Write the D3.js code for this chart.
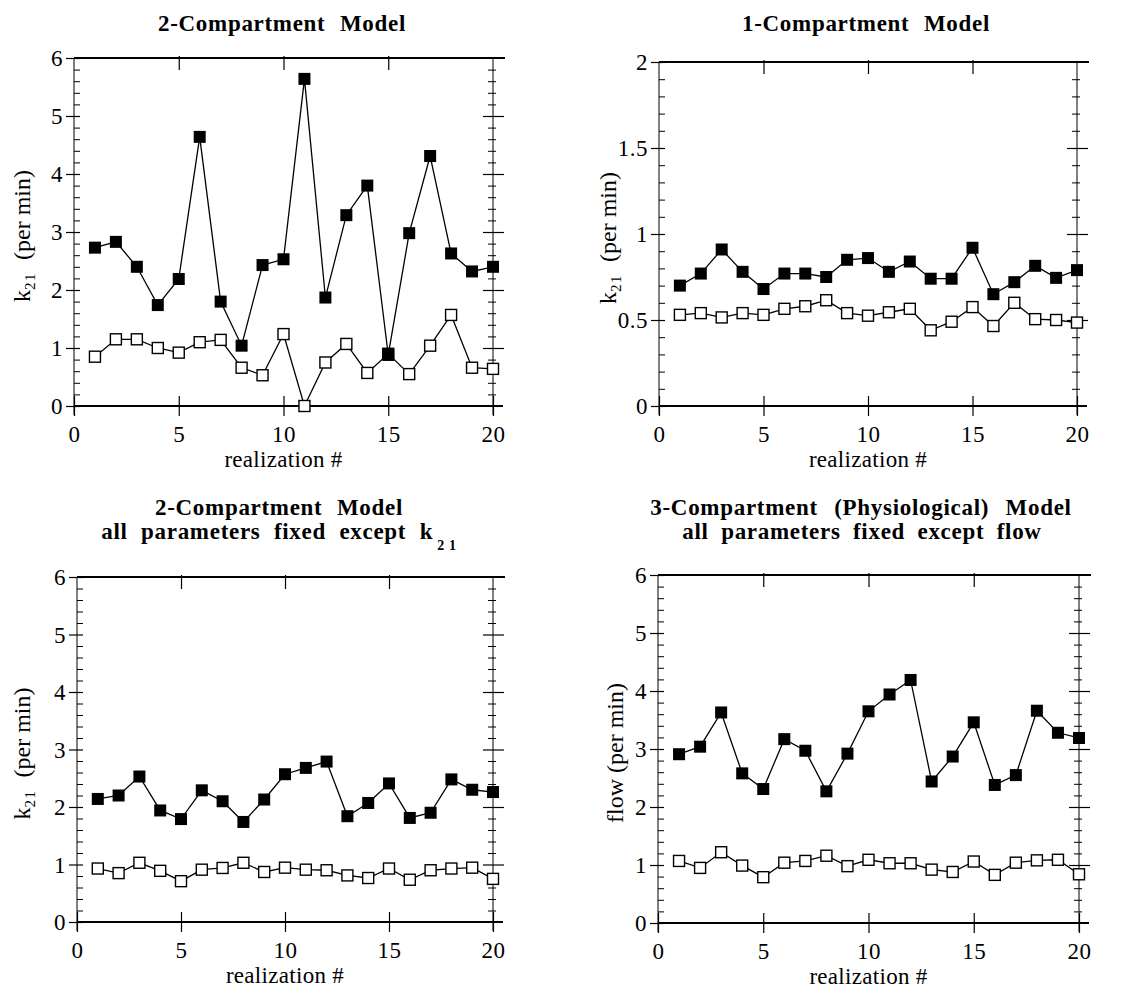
<!DOCTYPE html>
<html>
<head>
<meta charset="utf-8">
<script src="https://cdn.jsdelivr.net/npm/d3@7"></script>
<style>
  body { margin: 0; background: #fff; }
  svg text { font-family: "Liberation Serif", "Times New Roman", serif; fill: #000; }
</style>
</head>
<body>
<div id="chart"></div>
<script>
/* realization index shared by every panel */
const realization = [1, 2, 3, 4, 5, 6, 7, 8, 9, 10, 11, 12, 13, 14, 15, 16, 17, 18, 19, 20];
const xTickValues = [0, 5, 10, 15, 20];
const xTickLabels = ["0", "5", "10", "15", "20"];

/* y ticks */
const yTicksWide = [0, 1, 2, 3, 4, 5, 6];
const yTickLabelsWide = ["0", "1", "2", "3", "4", "5", "6"];
const yTicksNarrow = [0, 0.5, 1, 1.5, 2];
const yTickLabelsNarrow = ["0", "0.5", "1", "1.5", "2"];

/* 2-Compartment Model (k21) */
const twoCompFilled = [2.73, 2.83, 2.40, 1.74, 2.19, 4.64, 1.80, 1.04, 2.43, 2.53,
                       5.64, 1.87, 3.29, 3.80, 0.88, 2.98, 4.31, 2.63, 2.32, 2.40];
const twoCompOpen   = [0.85, 1.15, 1.15, 1.00, 0.92, 1.10, 1.14, 0.66, 0.53, 1.24,
                       0.00, 0.75, 1.07, 0.57, 0.90, 0.55, 1.04, 1.57, 0.66, 0.64];

/* 1-Compartment Model (k21) */
const oneCompFilled = [0.70, 0.77, 0.91, 0.78, 0.68, 0.77, 0.77, 0.75, 0.85, 0.86,
                       0.78, 0.84, 0.74, 0.74, 0.92, 0.65, 0.72, 0.815, 0.745, 0.79];
const oneCompOpen   = [0.53, 0.54, 0.515, 0.54, 0.53, 0.565, 0.58, 0.615, 0.54, 0.525,
                       0.545, 0.565, 0.44, 0.49, 0.575, 0.465, 0.60, 0.505, 0.50, 0.485];

/* 2-Compartment Model, all parameters fixed except k21 */
const fixedK21Filled = [2.14, 2.20, 2.53, 1.94, 1.79, 2.29, 2.10, 1.74, 2.13, 2.57,
                        2.68, 2.79, 1.84, 2.07, 2.41, 1.81, 1.90, 2.48, 2.30, 2.26];
const fixedK21Open   = [0.93, 0.85, 1.03, 0.89, 0.71, 0.91, 0.94, 1.03, 0.87, 0.945,
                        0.91, 0.90, 0.81, 0.765, 0.93, 0.735, 0.90, 0.93, 0.945, 0.75];

/* 3-Compartment (Physiological) Model, all parameters fixed except flow */
const physioFilled = [2.91, 3.04, 3.63, 2.58, 2.31, 3.17, 2.97, 2.27, 2.92, 3.65,
                      3.94, 4.19, 2.44, 2.87, 3.46, 2.38, 2.55, 3.66, 3.28, 3.19];
const physioOpen   = [1.07, 0.95, 1.22, 0.99, 0.79, 1.04, 1.07, 1.16, 0.98, 1.09,
                      1.03, 1.03, 0.92, 0.88, 1.06, 0.83, 1.04, 1.08, 1.09, 0.84];

const width = 1148;
const height = 991;
const serif = "'Liberation Serif', 'Times New Roman', serif";

const svg = d3.select("#chart")
  .append("svg")
  .attr("width", width)
  .attr("height", height);

const panels = [
  { left: 74, right: 493, top: 58, bottom: 406, yMax: 6, yTicks: yTicksWide, yLabels: yTickLabelsWide,
    minorStep: 0.2, filled: twoCompFilled, open: twoCompOpen, yTitle: "k", labelX: 22 },
  { left: 659, right: 1077, top: 62, bottom: 406, yMax: 2, yTicks: yTicksNarrow, yLabels: yTickLabelsNarrow,
    minorStep: 0.1, filled: oneCompFilled, open: oneCompOpen, yTitle: "k", labelX: 608 },
  { left: 77, right: 493, top: 577, bottom: 922, yMax: 6, yTicks: yTicksWide, yLabels: yTickLabelsWide,
    minorStep: 0.2, filled: fixedK21Filled, open: fixedK21Open, yTitle: "k", labelX: 22 },
  { left: 658, right: 1079, top: 575, bottom: 923, yMax: 6, yTicks: yTicksWide, yLabels: yTickLabelsWide,
    minorStep: 0.2, filled: physioFilled, open: physioOpen, yTitle: "flow", labelX: 615 }
];

function drawPanel(p) {
  const g = svg.append("g");

  const x = d3.scaleLinear().domain([0, 20]).range([p.left, p.right]);
  const y = d3.scaleLinear().domain([0, p.yMax]).range([p.bottom, p.top]);

  const minors = d3.range(0, p.yMax + 1e-9, p.minorStep)
    .filter(v => !p.yTicks.some(t => Math.abs(t - v) < 1e-6));

  // left axis: major ticks crossing the line, labels
  const leftAxis = g.append("g")
    .attr("transform", `translate(${p.left},0)`)
    .call(d3.axisLeft(y)
      .tickValues(p.yTicks)
      .tickSize(8)
      .tickPadding(3)
      .tickFormat((d, i) => p.yLabels[i]));
  leftAxis.attr("font-family", serif);
  leftAxis.select(".domain").remove();
  leftAxis.selectAll(".tick line").attr("x1", 6).attr("stroke-width", 1.2);
  leftAxis.selectAll(".tick text")
    .attr("font-size", 23)
    .attr("letter-spacing", 0.5)
    .attr("dy", "0.34em");

  // left minor ticks (inward)
  const leftMinor = g.append("g")
    .attr("transform", `translate(${p.left},0)`)
    .call(d3.axisLeft(y).tickValues(minors).tickSize(-6).tickFormat(""));
  leftMinor.select(".domain").remove();

  // right axis: majors crossing, minors short
  const rightAxis = g.append("g")
    .attr("transform", `translate(${p.right},0)`)
    .call(d3.axisRight(y).tickValues(p.yTicks.slice(1, -1)).tickSize(11).tickFormat(""));
  rightAxis.select(".domain").remove();
  rightAxis.selectAll(".tick line").attr("x1", -10).attr("stroke-width", 1.2);

  const rightMinor = g.append("g")
    .attr("transform", `translate(${p.right},0)`)
    .call(d3.axisRight(y).tickValues(minors).tickSize(3).tickFormat(""));
  rightMinor.select(".domain").remove();
  rightMinor.selectAll(".tick line").attr("x1", -5);

  // bottom axis: ticks crossing, labels
  const bottomAxis = g.append("g")
    .attr("transform", `translate(0,${p.bottom})`)
    .call(d3.axisBottom(x)
      .tickValues(xTickValues)
      .tickSize(10)
      .tickPadding(10)
      .tickFormat((d, i) => xTickLabels[i]));
  bottomAxis.attr("font-family", serif);
  bottomAxis.select(".domain").remove();
  bottomAxis.selectAll(".tick line").attr("y1", -10).attr("stroke-width", 1.2);
  bottomAxis.selectAll(".tick text")
    .attr("font-size", 23)
    .attr("letter-spacing", 0.5);

  // top axis: ticks hanging down
  const topAxis = g.append("g")
    .attr("transform", `translate(0,${p.top})`)
    .call(d3.axisTop(x).tickValues([5, 10, 15]).tickSize(2).tickFormat(""));
  topAxis.select(".domain").remove();
  topAxis.selectAll(".tick line").attr("y1", 12).attr("stroke-width", 1.2);

  // frame lines
  g.append("line")
    .attr("x1", p.left).attr("x2", p.left)
    .attr("y1", p.top).attr("y2", p.bottom + 9)
    .attr("stroke", "#000").attr("stroke-width", 1);
  g.append("line")
    .attr("x1", p.right).attr("x2", p.right)
    .attr("y1", p.top).attr("y2", p.bottom + 9)
    .attr("stroke", "#000").attr("stroke-width", 1);
  g.append("line")
    .attr("x1", p.left).attr("x2", p.right + 12)
    .attr("y1", p.top).attr("y2", p.top)
    .attr("stroke", "#000").attr("stroke-width", 2);
  g.append("line")
    .attr("x1", p.left).attr("x2", p.right + 10)
    .attr("y1", p.bottom).attr("y2", p.bottom)
    .attr("stroke", "#000").attr("stroke-width", 2);

  // x axis title
  g.append("text")
    .attr("x", (p.left + p.right) / 2)
    .attr("y", p.bottom + 61)
    .attr("text-anchor", "middle")
    .attr("font-size", 23)
    .attr("letter-spacing", 0.3)
    .text("realization #");

  // y axis title
  const yt = g.append("text")
    .attr("transform", `translate(${p.labelX + 8},${(p.top + p.bottom) / 2 + 4}) rotate(-90)`)
    .attr("text-anchor", "middle")
    .attr("font-size", 24);
  if (p.yTitle === "k") {
    yt.append("tspan").text("k");
    yt.append("tspan").attr("font-size", 15).attr("dy", 5).attr("letter-spacing", 1.5).text("21");
    yt.append("tspan").attr("dy", -5).text("\u00a0\u00a0(per min)");
  } else {
    yt.text("flow (per min)");
  }

  // series
  const line = d3.line()
    .x((d, i) => x(realization[i]))
    .y(d => y(d));

  g.append("path")
    .datum(p.open)
    .attr("fill", "none")
    .attr("stroke", "#000")
    .attr("stroke-width", 1.3)
    .attr("d", line);

  g.append("path")
    .datum(p.filled)
    .attr("fill", "none")
    .attr("stroke", "#000")
    .attr("stroke-width", 1.3)
    .attr("d", line);

  const openSize = 11;
  g.append("g")
    .selectAll("rect")
    .data(p.open)
    .join("rect")
      .attr("x", (d, i) => x(realization[i]) - openSize / 2)
      .attr("y", d => y(d) - openSize / 2)
      .attr("width", openSize)
      .attr("height", openSize)
      .attr("fill", "#fff")
      .attr("stroke", "#000")
      .attr("stroke-width", 1.4);

  const filledSize = 12;
  g.append("g")
    .selectAll("rect")
    .data(p.filled)
    .join("rect")
      .attr("x", (d, i) => x(realization[i]) - filledSize / 2)
      .attr("y", d => y(d) - filledSize / 2)
      .attr("width", filledSize)
      .attr("height", filledSize)
      .attr("fill", "#000");
}

panels.forEach(drawPanel);

/* panel titles */
function title(x, y, str, wordGap) {
  return svg.append("text")
    .attr("x", x)
    .attr("y", y)
    .attr("text-anchor", "middle")
    .attr("font-size", 23)
    .attr("font-weight", "bold")
    .attr("letter-spacing", 0.7)
    .attr("word-spacing", wordGap)
    .text(str);
}

title(282, 31, "2-Compartment Model", 8);
title(866, 31, "1-Compartment Model", 8);
title(279, 515, "2-Compartment Model", 8);
const sub = title(279, 539, "all parameters fixed except k", 7);
sub.append("tspan")
  .attr("font-size", 14)
  .attr("dx", 4)
  .attr("dy", 11)
  .attr("word-spacing", 0)
  .text("2 1");
title(861, 515, "3-Compartment (Physiological) Model", 10);
title(862, 539, "all parameters fixed except flow", 6);
</script>
</body>
</html>
